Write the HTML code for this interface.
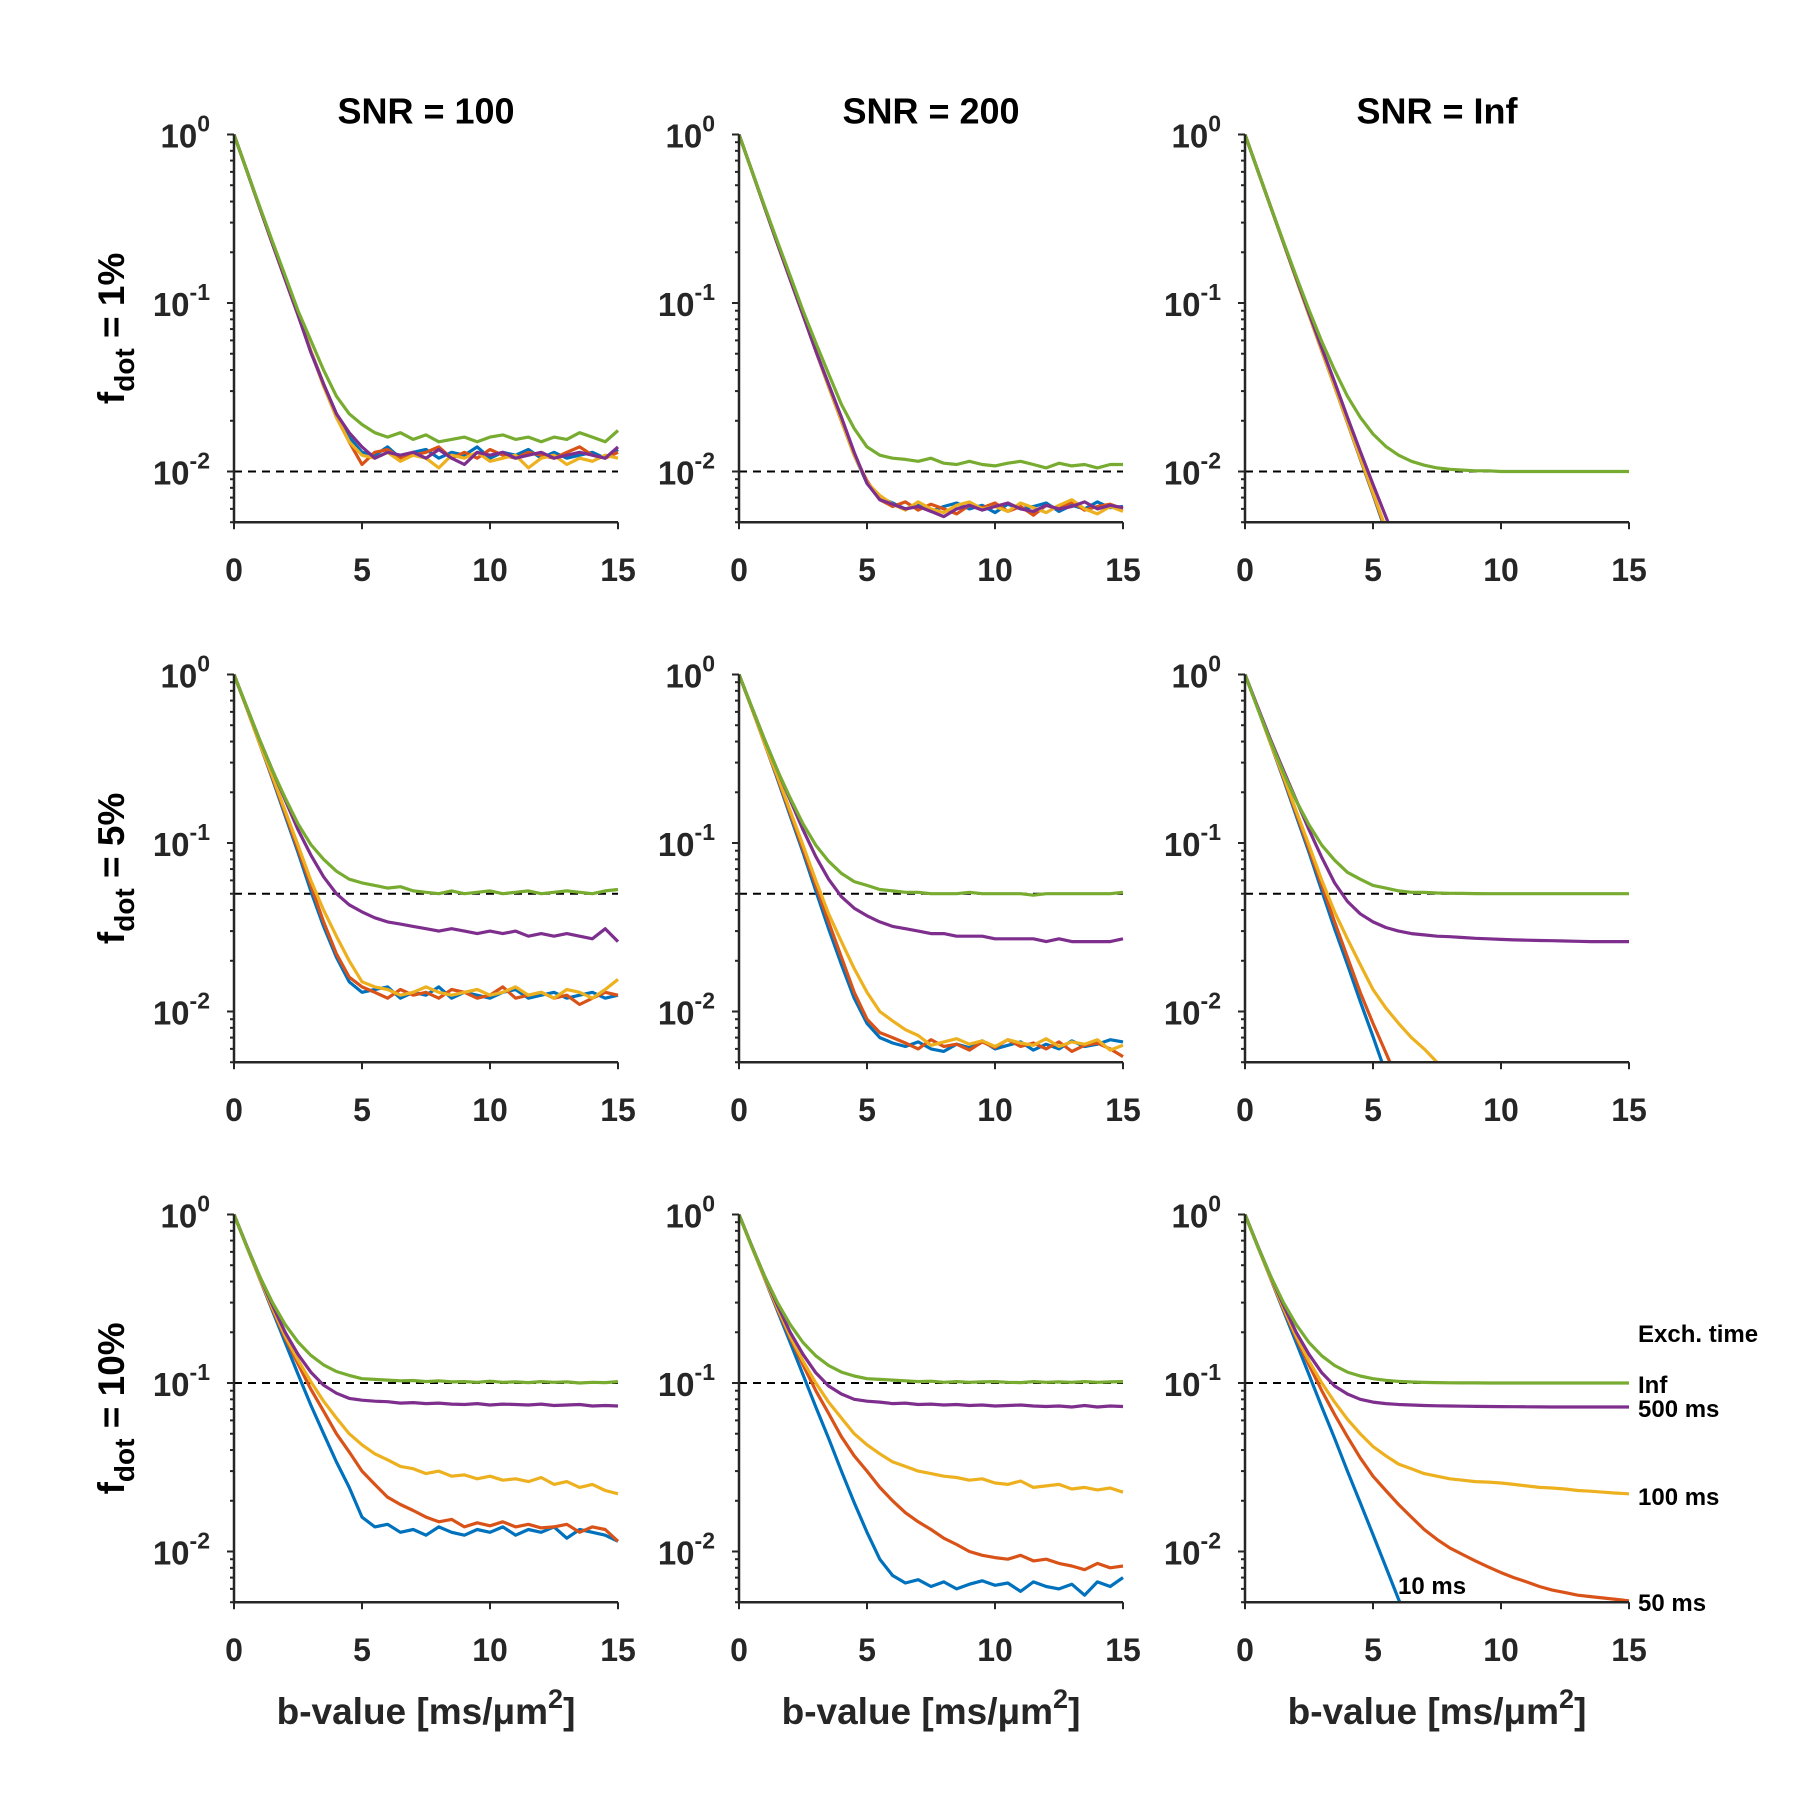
<!DOCTYPE html>
<html><head><meta charset="utf-8"><style>
html,body{margin:0;padding:0;background:#fff;}
svg text{font-family:"Liberation Sans",Arial,sans-serif;font-weight:bold;}
</style></head><body>
<svg id="fig" xmlns="http://www.w3.org/2000/svg" width="1800" height="1800" viewBox="0 0 1800 1800">
<rect width="1800" height="1800" fill="#fff"/>
</svg>
<script>
const bValues=[0,0.5,1,1.5,2,2.5,3,3.5,4,4.5,5,5.5,6,6.5,7,7.5,8,8.5,9,9.5,10,10.5,11,11.5,12,12.5,13,13.5,14,14.5,15];
const seriesNames=["10 ms","50 ms","100 ms","500 ms","Inf"];
const colTitles=["SNR = 100","SNR = 200","SNR = Inf"];
const rowFdot=["1%","5%","10%"];
const fdotValues=[0.01,0.05,0.1];
const xTicks=[0,5,10,15];
const yTickExp=[0,-1,-2];
// row 0, f=1%
const r0c0_blue=[1,.61,.37,.225,.138,.085,.052,.033,.022,.016,.013,.0125,.014,.012,.013,.0135,.012,.013,.0125,.014,.012,.013,.0125,.0135,.012,.013,.012,.0125,.013,.012,.0135];
const r0c0_red=[1,.61,.37,.225,.138,.085,.052,.033,.021,.015,.011,.013,.0135,.012,.0125,.013,.014,.012,.013,.012,.0135,.0125,.012,.013,.0125,.012,.013,.014,.0125,.012,.013];
const r0c0_yellow=[1,.61,.37,.225,.138,.085,.052,.032,.021,.015,.0125,.012,.013,.0115,.0125,.012,.0105,.0125,.012,.013,.0115,.012,.0125,.0105,.012,.0125,.011,.012,.0115,.0125,.012];
const r0c0_purple=[1,.61,.37,.225,.138,.085,.051,.033,.022,.017,.014,.012,.013,.0125,.013,.012,.0135,.012,.011,.013,.0125,.013,.012,.0125,.013,.012,.0125,.013,.0125,.012,.014];
const r0c0_green=[1,.61,.375,.232,.145,.09,.06,.04,.028,.022,.019,.017,.016,.017,.0155,.0165,.015,.0155,.016,.015,.016,.0165,.0155,.016,.015,.016,.0155,.017,.016,.015,.0175];
const r0c1_blue=[1,.61,.37,.225,.138,.085,.052,.032,.02,.0125,.0085,.007,.0065,.006,.0063,.0058,.0062,.0065,.006,.0063,.0057,.0064,.006,.0062,.0065,.0058,.0063,.006,.0066,.0061,.0062];
const r0c1_red=[1,.61,.37,.225,.138,.085,.052,.032,.02,.0125,.0088,.0068,.0062,.0066,.0059,.0064,.006,.0056,.0063,.0061,.0065,.0058,.0062,.0055,.0063,.006,.0066,.0059,.0062,.0064,.006];
const r0c1_yellow=[1,.61,.37,.225,.138,.085,.052,.032,.02,.0125,.0086,.0072,.0064,.0059,.0066,.006,.0057,.0063,.0066,.006,.0062,.0058,.0065,.0061,.0057,.0063,.0068,.006,.0056,.0062,.0058];
const r0c1_purple=[1,.61,.37,.225,.138,.085,.052,.033,.021,.013,.0085,.0068,.0064,.006,.0062,.0058,.0054,.006,.0063,.0059,.0062,.0065,.006,.0058,.0063,.006,.0062,.0066,.006,.0063,.0061];
const r0c1_green=[1,.61,.375,.232,.145,.09,.058,.038,.025,.018,.014,.0125,.012,.0118,.0115,.012,.0112,.011,.0115,.011,.0108,.0112,.0115,.011,.0105,.0112,.0108,.011,.0105,.011,.011];
const r0c2_blue=[1,.61,.373,.228,.139,.085,.052,.032,.0195,.0119,.0073,.0044,.0027,.0016,.001,.0006,.0004,.0003,.0002,.0001,.0001,.0001,.0001,.0001,.0001,.0001,.0001,.0001,.0001,.0001,.0001];
const r0c2_red=[1,.61,.373,.228,.139,.085,.052,.032,.0196,.012,.0074,.0045,.0028,.0017,.001,.0006,.0004,.0003,.0002,.0001,.0001,.0001,.0001,.0001,.0001,.0001,.0001,.0001,.0001,.0001,.0001];
const r0c2_yellow=[1,.61,.373,.228,.139,.085,.052,.032,.0197,.0121,.0075,.0046,.0029,.0018,.0011,.0007,.0004,.0003,.0002,.0001,.0001,.0001,.0001,.0001,.0001,.0001,.0001,.0001,.0001,.0001,.0001];
const r0c2_purple=[1,.61,.374,.229,.141,.087,.054,.034,.021,.0132,.0084,.0054,.0035,.0023,.0015,.001,.0007,.0005,.0003,.0002,.0001,.0001,.0001,.0001,.0001,.0001,.0001,.0001,.0001,.0001,.0001];
const r0c2_green=[1,.61,.374,.231,.144,.091,.059,.04,.028,.021,.0167,.0141,.0125,.0115,.0109,.0105,.0103,.0102,.0101,.0101,.01,.01,.01,.01,.01,.01,.01,.01,.01,.01,.01];
// row 1, f=5%
const r1c0_blue=[1,.63,.39,.24,.145,.088,.052,.032,.021,.015,.013,.0135,.014,.012,.013,.0125,.014,.012,.013,.0125,.012,.013,.0135,.012,.0125,.013,.012,.0125,.013,.012,.0125];
const r1c0_red=[1,.63,.39,.245,.15,.092,.056,.034,.022,.016,.014,.013,.012,.0135,.0125,.013,.012,.0135,.013,.012,.0125,.014,.012,.0125,.013,.012,.0125,.011,.012,.013,.0125];
const r1c0_yellow=[1,.63,.39,.25,.155,.097,.06,.04,.028,.02,.015,.014,.0135,.0125,.013,.014,.013,.0125,.013,.0135,.0125,.013,.014,.0125,.013,.012,.0135,.013,.012,.0135,.0155];
const r1c0_purple=[1,.64,.41,.27,.18,.12,.085,.063,.05,.043,.039,.036,.034,.033,.032,.031,.03,.031,.03,.029,.03,.029,.03,.028,.029,.028,.029,.028,.027,.031,.026];
const r1c0_green=[1,.64,.41,.27,.185,.13,.098,.08,.068,.061,.058,.056,.054,.055,.052,.051,.05,.052,.05,.051,.052,.05,.051,.052,.05,.051,.052,.051,.05,.052,.053];
const r1c1_blue=[1,.63,.39,.24,.145,.088,.052,.031,.019,.012,.0085,.007,.0065,.0062,.0066,.006,.0058,.0064,.0061,.0067,.006,.0063,.0066,.0059,.0064,.006,.0067,.0062,.0064,.0068,.0066];
const r1c1_red=[1,.63,.39,.245,.15,.092,.056,.034,.021,.013,.009,.0075,.007,.0065,.006,.0068,.0062,.0064,.0059,.0066,.0061,.0068,.0062,.0065,.006,.0066,.0058,.0063,.0065,.006,.0054];
const r1c1_yellow=[1,.63,.39,.25,.155,.097,.06,.038,.026,.018,.013,.01,.0088,.0078,.0072,.0063,.0066,.0069,.0064,.0067,.0062,.0068,.0065,.0063,.0069,.0062,.0066,.0064,.0068,.0059,.0063];
const r1c1_purple=[1,.64,.41,.27,.18,.12,.083,.061,.048,.041,.037,.034,.032,.031,.03,.029,.029,.028,.028,.028,.027,.027,.027,.027,.026,.027,.026,.026,.026,.026,.027];
const r1c1_green=[1,.64,.41,.27,.185,.13,.097,.078,.066,.059,.056,.053,.052,.051,.051,.05,.05,.05,.051,.05,.05,.05,.05,.049,.05,.05,.05,.05,.05,.05,.051];
const r1c2_blue=[1,.63,.39,.24,.145,.088,.052,.031,.019,.0115,.0071,.0043,.0026,.0016,.001,.0006,.0004,.0002,.0001,.0001,.0001,.0001,.0001,.0001,.0001,.0001,.0001,.0001,.0001,.0001,.0001];
const r1c2_red=[1,.63,.39,.245,.15,.092,.056,.034,.021,.013,.0085,.0057,.0038,.0025,.0017,.0011,.0007,.0005,.0003,.0002,.0001,.0001,.0001,.0001,.0001,.0001,.0001,.0001,.0001,.0001,.0001];
const r1c2_yellow=[1,.63,.39,.25,.155,.097,.06,.039,.027,.019,.0135,.0105,.0085,.007,.006,.005,.0042,.0035,.003,.0025,.002,.0017,.0014,.0012,.001,.0008,.0007,.0006,.0005,.0004,.0003];
const r1c2_purple=[1,.64,.41,.27,.18,.12,.082,.058,.045,.038,.034,.0315,.03,.029,.0285,.028,.0278,.0275,.0272,.027,.0268,.0266,.0265,.0264,.0263,.0262,.0261,.026,.026,.026,.026];
const r1c2_green=[1,.626,.4,.262,.178,.128,.097,.079,.067,.061,.056,.054,.052,.051,.0509,.0505,.0503,.0502,.0501,.05,.05,.05,.05,.05,.05,.05,.05,.05,.05,.05,.05];
// row 2, f=10%
const r2c0_blue=[1,.645,.417,.269,.174,.113,.074,.05,.034,.024,.016,.014,.0145,.013,.0135,.0125,.014,.013,.0125,.0135,.013,.014,.0125,.0135,.013,.014,.012,.0135,.013,.0125,.0115];
const r2c0_red=[1,.645,.42,.275,.185,.13,.092,.068,.05,.039,.03,.025,.021,.019,.0175,.016,.015,.0155,.014,.0148,.0142,.015,.014,.0145,.0138,.014,.0145,.013,.014,.0135,.0115];
const r2c0_yellow=[1,.645,.42,.28,.19,.137,.102,.078,.062,.05,.043,.038,.035,.032,.031,.029,.03,.028,.0285,.027,.028,.0265,.027,.026,.0275,.025,.026,.024,.025,.023,.022];
const r2c0_purple=[1,.65,.43,.29,.2,.148,.116,.097,.087,.081,.079,.078,.0775,.076,.0765,.0755,.076,.075,.0745,.0755,.074,.075,.0745,.074,.075,.0735,.074,.0745,.073,.0735,.073];
const r2c0_green=[1,.646,.431,.301,.222,.175,.146,.128,.117,.111,.106,.105,.104,.103,.1035,.102,.103,.1015,.102,.101,.1025,.101,.1015,.1005,.102,.101,.1015,.1,.101,.1005,.102];
const r2c1_blue=[1,.645,.417,.269,.174,.112,.072,.047,.03,.0195,.013,.009,.0072,.0065,.0068,.0062,.0066,.006,.0064,.0067,.0063,.0065,.0058,.0066,.0062,.006,.0064,.0055,.0066,.0062,.007];
const r2c1_red=[1,.645,.42,.275,.185,.128,.09,.066,.048,.037,.03,.024,.02,.017,.015,.0135,.012,.011,.01,.0095,.0092,.009,.0095,.0088,.009,.0085,.0082,.0078,.0085,.008,.0082];
const r2c1_yellow=[1,.645,.42,.28,.19,.135,.1,.077,.062,.05,.043,.038,.034,.032,.03,.029,.028,.0275,.0265,.027,.0255,.025,.0262,.024,.0245,.025,.0235,.024,.0232,.0238,.0225];
const r2c1_purple=[1,.65,.43,.29,.2,.148,.115,.096,.086,.08,.078,.077,.0755,.076,.0745,.075,.074,.0745,.0735,.074,.073,.0735,.074,.073,.0725,.073,.072,.0735,.072,.073,.0725];
const r2c1_green=[1,.646,.431,.301,.222,.174,.145,.127,.116,.11,.106,.105,.104,.103,.102,.1025,.101,.102,.101,.1015,.102,.101,.1005,.102,.101,.1015,.101,.102,.101,.1015,.102];
const r2c2_blue=[1,.645,.417,.269,.174,.112,.072,.047,.03,.0195,.0126,.0081,.0052,.0034,.0022,.0014,.0009,.0006,.0004,.0003,.0002,.0001,.0001,.0001,.0001,.0001,.0001,.0001,.0001,.0001,.0001];
const r2c2_red=[1,.645,.42,.275,.185,.128,.09,.065,.048,.036,.028,.023,.019,.016,.0135,.0118,.0105,.0096,.0088,.0081,.0075,.007,.0066,.0062,.0059,.0057,.0055,.0054,.0053,.0052,.0051];
const r2c2_yellow=[1,.645,.42,.28,.19,.135,.1,.077,.061,.05,.042,.037,.033,.031,.029,.028,.027,.0265,.026,.0258,.0255,.025,.0245,.024,.0238,.0235,.023,.0228,.0225,.0222,.022];
const r2c2_purple=[1,.65,.43,.29,.2,.148,.115,.096,.086,.08,.077,.0755,.0745,.074,.0735,.0732,.073,.0728,.0726,.0725,.0724,.0723,.0722,.0721,.072,.072,.072,.072,.072,.072,.072];
const r2c2_green=[1,.646,.431,.301,.222,.174,.145,.127,.116,.11,.106,.1037,.1022,.1014,.1008,.1005,.1003,.1002,.1001,.1,.1,.1,.1,.1,.1,.1,.1,.1,.1,.1,.1];

const panels=[
 [[r0c0_blue,r0c0_red,r0c0_yellow,r0c0_purple,r0c0_green],[r0c1_blue,r0c1_red,r0c1_yellow,r0c1_purple,r0c1_green],[r0c2_blue,r0c2_red,r0c2_yellow,r0c2_purple,r0c2_green]],
 [[r1c0_blue,r1c0_red,r1c0_yellow,r1c0_purple,r1c0_green],[r1c1_blue,r1c1_red,r1c1_yellow,r1c1_purple,r1c1_green],[r1c2_blue,r1c2_red,r1c2_yellow,r1c2_purple,r1c2_green]],
 [[r2c0_blue,r2c0_red,r2c0_yellow,r2c0_purple,r2c0_green],[r2c1_blue,r2c1_red,r2c1_yellow,r2c1_purple,r2c1_green],[r2c2_blue,r2c2_red,r2c2_yellow,r2c2_purple,r2c2_green]]
];
const colors=["#0072BD","#D95319","#EDB120","#7E2F8E","#77AC30"];
const colorKeys=["blue","red","yellow","purple","green"];

const NS="http://www.w3.org/2000/svg";
const svg=document.getElementById("fig");
const colX=[234,739,1245], rowY=[134.5,674.5,1214.5];
const W=384, DEC=168.5, YMIN=0.005, XMAX=15;
const H=DEC*Math.log10(1/YMIN);
function mk(tag,attrs,parent){const e=document.createElementNS(NS,tag);for(const k in attrs)e.setAttribute(k,attrs[k]);(parent||svg).appendChild(e);return e;}
const defs=mk("defs",{});
for(let r=0;r<3;r++)for(let c=0;c<3;c++){
  const x0=colX[c], y0=rowY[r];
  const sx=v=>x0+v/XMAX*W;
  const sy=v=>y0-Math.log10(v)*DEC;
  const g=mk("g",{});
  
  
  const cp=mk("clipPath",{id:"cp"+r+c},defs);
  mk("rect",{x:x0,y:y0-2,width:W+2,height:H+2},cp);
  const dl=mk("line",{x1:x0,x2:x0+W,y1:sy(fdotValues[r]),y2:sy(fdotValues[r]),stroke:"#000","stroke-width":2,"stroke-dasharray":"8,6"},g);
  
  
  const lg=mk("g",{"clip-path":"url(#cp"+r+c+")"},g);
  panels[r][c].forEach((arr,i)=>{
    const d=arr.map((v,j)=>(j?"L":"M")+sx(bValues[j]).toFixed(1)+","+sy(v).toFixed(1)).join(" ");
    const p=mk("path",{d:d,fill:"none",stroke:colors[i],"stroke-width":3.2,"stroke-linejoin":"round"},lg);
    
    
  });
  const ax=mk("path",{d:"M"+x0+","+y0+" L"+x0+","+(y0+H)+" L"+(x0+W)+","+(y0+H),fill:"none",stroke:"#262626","stroke-width":2.5},g);
  
  
  for(let d=-3;d<=0;d++)for(let k=1;k<=9;k++){
    const v=k*Math.pow(10,d); if(v<YMIN-1e-9||v>1+1e-9)continue;
    const len=k===1?7:4;
    mk("line",{x1:x0-len,x2:x0,y1:sy(v),y2:sy(v),stroke:"#262626","stroke-width":2},g);
  }
  yTickExp.forEach(e=>{
    const t=mk("text",{x:x0-24,y:sy(Math.pow(10,e))+13,"text-anchor":"end","font-size":33,fill:"#262626"},g);
    
    
    t.innerHTML='10<tspan dy="-16" font-size="23">'+e+'</tspan>';
  });
  xTicks.forEach(v=>{
    mk("line",{x1:sx(v),x2:sx(v),y1:y0+H,y2:y0+H+7,stroke:"#262626","stroke-width":2},g);
    const t=mk("text",{x:sx(v),y:y0+H+59,"text-anchor":"middle","font-size":32,fill:"#262626"},g);
    
    
    t.textContent=v;
  });
  if(r===0){
    const t=mk("text",{x:x0+W/2,y:y0-11,"text-anchor":"middle","font-size":36,fill:"#000"},g);
    
    
    t.textContent=colTitles[c];
  }
  if(c===0){
    const cy=y0+H/2;
    const t=mk("text",{x:0,y:0,transform:"translate(124,"+cy+") rotate(-90)","text-anchor":"middle","font-size":37,fill:"#000"},g);
    
    
    t.innerHTML='f<tspan dy="10" font-size="28">dot</tspan><tspan dy="-10"> = '+rowFdot[r]+'</tspan>';
  }
  if(r===2){
    const t=mk("text",{x:x0+W/2,y:y0+H+122,"text-anchor":"middle","font-size":37,fill:"#262626"},g);
    
    
    t.innerHTML='b-value [ms/μm<tspan dy="-16" font-size="27">2</tspan><tspan dy="16">]</tspan>';
  }
}
const legendLabels=[["Exch. time",1638,1342],["Inf",1638,1393],["500 ms",1638,1417],["100 ms",1638,1505],["50 ms",1638,1611],["10 ms",1398,1594]];
legendLabels.forEach(([s,x,y])=>{
  const t=mk("text",{x:x,y:y,"font-size":24,fill:"#000"});
  
  
  t.textContent=s;
});
</script>
</body></html>
